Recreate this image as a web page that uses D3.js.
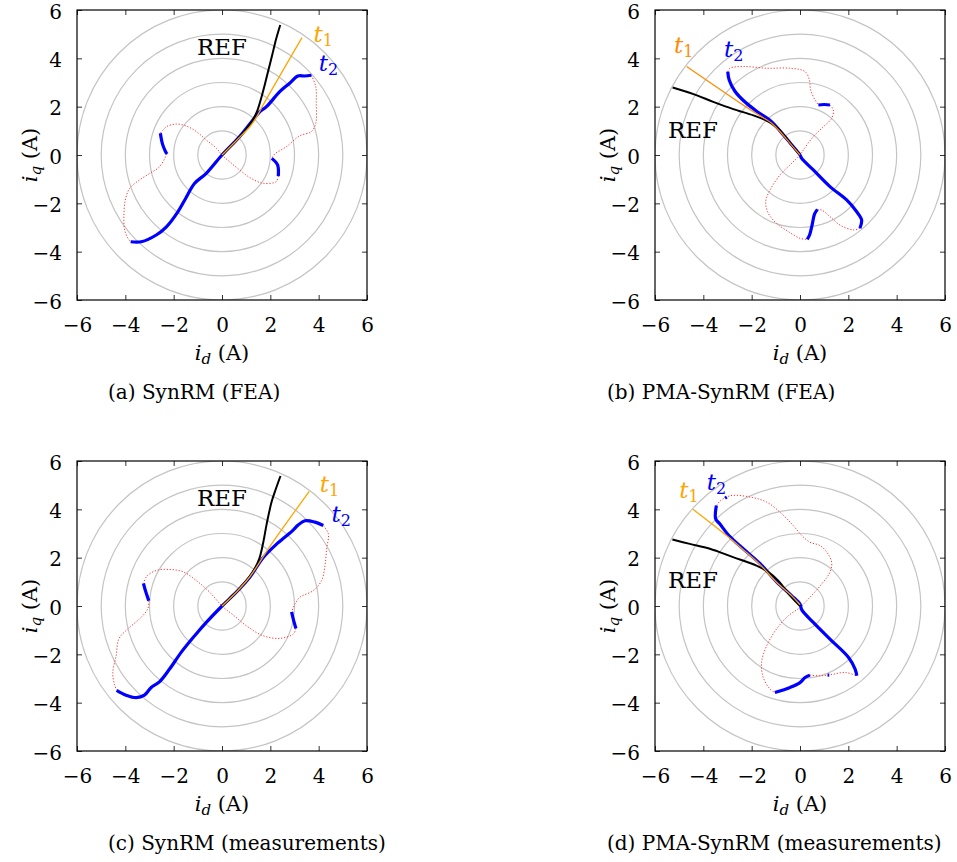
<!DOCTYPE html>
<html><head><meta charset="utf-8">
<script src="https://cdn.jsdelivr.net/npm/d3@7"></script>
<style>
html,body{margin:0;padding:0;background:#fff;}
svg{display:block;}
svg text{font-family:"DejaVu Serif",serif !important;}
</style></head>
<body><svg id="chart" width="957" height="862"></svg>
<script>
// ---------- shared ----------
const tickValues = [-6,-4,-2,0,2,4,6];
const circleRadii = [1,2,3,4,5,6];

// ---------- (a) SynRM (FEA) ----------
const aRef = [[0,0],[0.55,0.56],[0.95,1.0],[1.22,1.35],[1.44,1.78],[1.62,2.35],[1.78,2.95],[1.93,3.55],[2.08,4.15],[2.24,4.8],[2.41,5.38]];
const aT1 = [[0,0],[0.6,0.6],[1.15,1.17],[1.45,1.6],[1.70,2.07],[3.31,4.86]];
const aT2 = [
  [[-3.78,-3.59],[-3.34,-3.59],[-2.72,-3.31],[-2.30,-2.97],[-1.82,-2.34],[-1.54,-1.86],[-1.13,-1.17],[-0.65,-0.76],[0,0],[0.73,0.76],[1.28,1.45],[1.55,1.78],[1.84,2.0],[2.39,2.62],[2.80,2.97],[3.14,3.27],[3.42,3.27],[3.70,3.30]],
  [[-2.55,0.90],[-2.47,0.48],[-2.37,0.21],[-2.28,0.04]],
  [[2.06,-0.14],[2.3,-0.41],[2.33,-0.87]]
];
const aRed = [
  [[3.70,3.30],[3.88,2.83],[3.90,2.14],[3.88,1.31],[3.70,0.97],[3.21,0.79],[2.66,0.34],[2.18,0.04],[2.06,-0.14]],
  [[2.33,-0.87],[2.25,-1.10],[1.70,-1.17],[1.21,-0.97],[0.73,-0.62],[0.32,-0.28],[0,0],[-0.23,0.28],[-0.65,0.62],[-1.06,0.97],[-1.48,1.20],[-1.89,1.28],[-2.30,1.17],[-2.55,0.90]],
  [[-2.28,0.04],[-2.58,-0.48],[-2.99,-0.76],[-3.41,-1.03],[-3.82,-1.38],[-4.0,-1.86],[-4.06,-2.55],[-4.03,-3.10],[-3.89,-3.45],[-3.78,-3.59]]
];

// ---------- (b) PMA-SynRM (FEA) ----------
const bRef = [[0,0],[-0.41,0.5],[-0.83,1.02],[-1.17,1.3],[-1.45,1.45],[-1.93,1.64],[-2.76,1.9],[-3.59,2.2],[-4.41,2.52],[-5.27,2.79]];
const bT1 = [[0,0],[-0.41,0.48],[-0.83,0.97],[-1.2,1.33],[-1.45,1.5],[-2.07,1.88],[-4.69,3.66]];
const bT2 = [
  [[-2.99,3.45],[-2.93,3.10],[-2.7,2.65],[-2.25,2.17],[-1.72,1.76],[-1.2,1.4],[-0.83,1.0],[-0.41,0.5],[0,0],[0.07,-0.14],[0.55,-0.62],[1.24,-1.31],[1.93,-1.86],[2.34,-2.34],[2.55,-2.69],[2.48,-3.03]],
  [[0.76,2.07],[1.0,2.09],[1.24,2.07]],
  [[0.30,-3.49],[0.40,-3.3],[0.50,-2.9],[0.60,-2.45],[0.72,-2.25]]
];
const bRed = [
  [[-2.99,3.45],[-2.90,3.59],[-2.34,3.66],[-1.38,3.59],[-0.41,3.59],[0.21,3.45],[0.39,3.10],[0.44,2.69],[0.62,2.28],[0.76,2.07]],
  [[1.24,2.07],[1.38,1.86],[1.31,1.52],[0.97,1.17],[0.55,0.76],[0.14,0.21],[0,0],[-0.34,-0.34],[-0.83,-0.83],[-1.24,-1.45],[-1.42,-1.93],[-1.31,-2.41],[-0.97,-2.83],[-0.48,-3.17],[0,-3.45],[0.30,-3.49]],
  [[0.72,-2.25],[0.90,-2.28],[1.24,-2.55],[1.66,-2.90],[2.21,-3.10],[2.48,-3.03]]
];

// ---------- (c) SynRM (measurements) ----------
const cRef = [[0,0],[0.59,0.57],[1.05,1.1],[1.32,1.48],[1.54,1.95],[1.7,2.6],[1.85,3.4],[2.05,4.30],[2.23,4.85],[2.42,5.38]];
const cT1 = [[0,0],[0.59,0.57],[1.15,1.21],[1.97,2.45],[3.61,4.74]];
const cT2 = [
  [[-4.36,-3.49],[-3.97,-3.69],[-3.55,-3.79],[-3.21,-3.69],[-2.93,-3.37],[-2.59,-3.14],[-2.17,-2.61],[-1.69,-1.92],[-1.13,-1.23],[-0.65,-0.68],[0,0],[0.59,0.57],[1.15,1.19],[1.70,2.0],[2.3,2.6],[2.9,3.1],[3.15,3.35],[3.43,3.53],[3.85,3.47],[4.19,3.33]],
  [[-3.25,0.94],[-3.17,0.64],[-3.03,0.22]],
  [[2.88,-0.24],[2.95,-0.54],[3.06,-0.93]]
];
const cRed = [
  [[4.19,3.33],[4.40,2.99],[4.33,2.37],[4.26,1.67],[4.12,1.05],[3.78,0.64],[3.22,0.36],[3.02,0.08],[2.88,-0.24]],
  [[3.06,-0.93],[2.95,-1.16],[2.39,-1.34],[1.70,-1.23],[1.01,-0.82],[0.46,-0.37],[0,0],[-0.51,0.57],[-1.06,1.05],[-1.62,1.42],[-2.17,1.51],[-2.72,1.47],[-3.11,1.23],[-3.25,0.94]],
  [[-3.03,0.22],[-3.07,-0.12],[-3.42,-0.54],[-3.90,-0.95],[-4.27,-1.37],[-4.38,-2.06],[-4.52,-2.75],[-4.45,-3.24],[-4.36,-3.49]]
];

// ---------- (d) PMA-SynRM (measurements) ----------
const dRef = [[0,0],[-0.41,0.43],[-0.90,1.05],[-1.31,1.40],[-1.80,1.67],[-2.77,2.02],[-3.73,2.37],[-4.56,2.57],[-5.28,2.75]];
const dT1 = [[0,0.05],[-0.35,0.43],[-0.97,0.98],[-1.66,1.72],[-2.35,2.33],[-2.9,2.8],[-4.43,4.0]];
const dT2 = [
  [[-3.46,4.16],[-3.49,3.61],[-3.32,3.40],[-2.90,2.87],[-2.35,2.37],[-1.66,1.76],[-0.97,1.0],[-0.35,0.43],[0,0.08],[0.07,-0.15],[0.55,-0.68],[1.24,-1.37],[2.01,-2.13],[2.28,-2.61],[2.35,-2.89]],
  [[-3.10,4.46],[-3.03,4.51]],
  [[-1.04,-3.58],[-0.41,-3.37],[0,-3.17],[0.21,-2.96],[0.41,-2.86]],
  [[1.14,-2.86],[1.21,-2.86]]
];
const dRed = [
  [[-3.46,4.16],[-3.3,4.35],[-3.04,4.51],[-2.77,4.58],[-2.07,4.51],[-1.38,4.30],[-0.76,3.82],[-0.28,3.33],[0.07,2.92],[0.41,2.64],[0.83,2.50],[1.11,2.23],[1.31,1.81],[1.24,1.40],[0.90,0.91],[0.41,0.36],[0,-0.06],[-0.48,-0.40],[-0.97,-0.95],[-1.38,-1.65],[-1.59,-2.34],[-1.52,-2.96],[-1.24,-3.44],[-1.04,-3.58]],
  [[0.41,-2.86],[0.83,-2.89],[1.38,-2.82],[1.87,-2.75],[2.35,-2.89]]
];

const captions = ["(a) SynRM (FEA)","(b) PMA-SynRM (FEA)","(c) SynRM (measurements)","(d) PMA-SynRM (measurements)"];

// ---------- layout / style ----------
const panels = [
  {left:77, top:10,  ref:aRef, t1:aT1, t2:aT2, red:aRed, cap:captions[0], t1c:"#ffa500",
   refLab:[0,4.14,"middle"], t1Lab:[3.79,4.68], t2Lab:[4.0,3.48]},
  {left:655, top:10, ref:bRef, t1:bT1, t2:bT2, red:bRed, cap:captions[1], t1c:"#ff8c00",
   refLab:[-4.43,0.70,"middle"], t1Lab:[-5.21,4.22], t2Lab:[-3.14,4.05]},
  {left:77, top:461, ref:cRef, t1:cT1, t2:cT2, red:cRed, cap:captions[2], t1c:"#ffa500",
   refLab:[0,4.15,"middle"], t1Lab:[4.04,4.72], t2Lab:[4.53,3.49]},
  {left:655, top:461, ref:dRef, t1:dT1, t2:dT2, red:dRed, cap:captions[3], t1c:"#ffa500",
   refLab:[-4.43,0.74,"middle"], t1Lab:[-5.0,4.48], t2Lab:[-3.86,4.80]}
];
const S = 290;
const svg = d3.select("#chart");
const fs = 20;

panels.forEach((p,i)=>{
  const g = svg.append("g").attr("transform",`translate(${p.left},${p.top})`);
  const x = d3.scaleLinear().domain([-6,6]).range([0,S]);
  const y = d3.scaleLinear().domain([-6,6]).range([S,0]);
  const clipId = "clip"+i;
  g.append("clipPath").attr("id",clipId).append("rect").attr("width",S).attr("height",S);
  const pg = g.append("g").attr("clip-path",`url(#${clipId})`);

  pg.selectAll("circle").data(circleRadii).join("circle")
    .attr("cx",x(0)).attr("cy",y(0)).attr("r",d=>x(d)-x(0))
    .attr("fill","none").attr("stroke","#c4c4c4").attr("stroke-width",1.2);

  const line = d3.line().x(d=>x(d[0])).y(d=>y(d[1])).curve(d3.curveCatmullRom.alpha(0.5));

  pg.selectAll("path.red").data(p.red).join("path").attr("class","red")
    .attr("d",line).attr("fill","none").attr("stroke","#ff3030").attr("stroke-width",1)
    .attr("stroke-dasharray","1.2,1.8");
  pg.selectAll("path.t2").data(p.t2).join("path").attr("class","t2")
    .attr("d",line).attr("fill","none").attr("stroke","#0000ff").attr("stroke-width",3.2)
    .attr("stroke-linejoin","round");
  pg.append("path").datum(p.ref).attr("d",line).attr("fill","none")
    .attr("stroke","#000").attr("stroke-width",2);
  pg.append("path").datum(p.t1).attr("d",line).attr("fill","none")
    .attr("stroke",p.t1c).attr("stroke-width",1.3);

  const ax = (gen,tr,lab)=>{
    const a = g.append("g").attr("transform",tr).call(gen);
    a.attr("font-family","DejaVu Serif").attr("font-size",fs);
    a.select(".domain").remove();
    a.selectAll("line").attr("stroke","#333").attr("stroke-width",1);
    a.selectAll("text").attr("fill","#000");
    if(!lab) a.selectAll("text").remove();
    return a;
  };
  ax(d3.axisBottom(x).tickValues(tickValues).tickSize(-5).tickSizeOuter(0).tickPadding(18),`translate(0,${S})`,true);
  ax(d3.axisLeft(y).tickValues(tickValues).tickSize(-5).tickSizeOuter(0).tickPadding(15),`translate(0,0)`,true)
    .selectAll("text").attr("dy","0.4em");
  ax(d3.axisTop(x).tickValues(tickValues).tickSize(-5).tickSizeOuter(0),`translate(0,0)`,false);
  ax(d3.axisRight(y).tickValues(tickValues).tickSize(-5).tickSizeOuter(0),`translate(${S},0)`,false);

  g.append("rect").attr("width",S).attr("height",S).attr("fill","none")
    .attr("stroke","#000").attr("stroke-width",1.2);

  g.append("text").attr("x",x(p.refLab[0])).attr("y",y(p.refLab[1]))
    .attr("text-anchor",p.refLab[2]).attr("font-size",23).text("REF");
  const tl = (pos,col,sub)=>{
    const t = g.append("text").attr("x",x(pos[0])).attr("y",y(pos[1])).attr("fill",col).attr("font-size",23);
    t.append("tspan").attr("font-style","italic").text("t");
    t.append("tspan").attr("font-size",16).attr("dy",4).text(sub);
  };
  tl(p.t1Lab,p.t1c,"1");
  tl(p.t2Lab,"#0000ff","2");

  const xt = g.append("text").attr("x",S/2).attr("y",350).attr("text-anchor","middle").attr("font-size",21);
  xt.append("tspan").attr("font-style","italic").text("i");
  xt.append("tspan").attr("font-size",15).attr("font-style","italic").attr("dy",4).text("d");
  xt.append("tspan").attr("dy",-4).text(" (A)");
  const yt = g.append("text").attr("transform",`translate(-40,${S/2}) rotate(-90)`)
    .attr("text-anchor","middle").attr("font-size",21);
  yt.append("tspan").attr("font-style","italic").text("i");
  yt.append("tspan").attr("font-size",15).attr("font-style","italic").attr("dy",4).text("q");
  yt.append("tspan").attr("dy",-4).text(" (A)");

  g.append("text").attr("x",(i%2===0?108:607)-p.left).attr("y",389)
    .attr("font-size",fs).text(p.cap);
});
</script>
</body></html>
